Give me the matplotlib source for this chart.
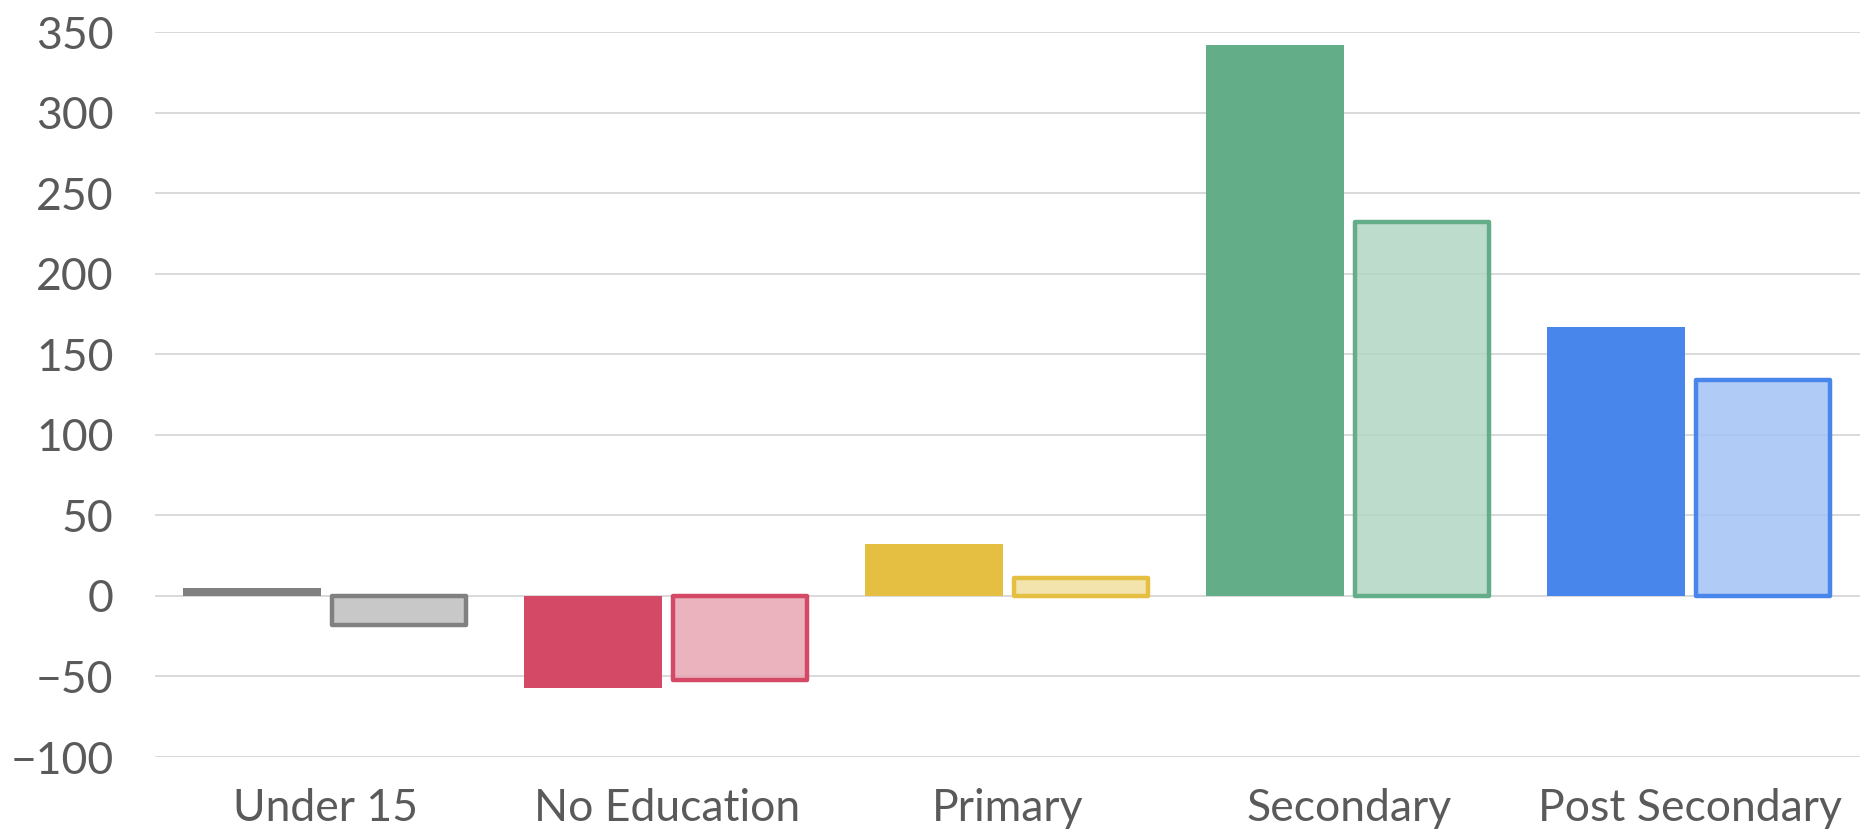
import numpy as np
import matplotlib.pyplot as plt

# categories and the two series (dark = first, light = second)
categories = ["Under 15", "No Education", "Primary", "Secondary", "Post Secondary"]
series_a = [5, -57, 32, 342, 167]
series_b = [-18, -52, 11, 232, 134]

dark_colors = ["#808080", "#d44a66", "#e5bf42", "#63ae88", "#4886eb"]
light_colors = ["#bfbfbf", "#e8a6b2", "#f1df9f", "#b3d6c4", "#a4c2f6"]

y_ticks = [-100, -50, 0, 50, 100, 150, 200, 250, 300, 350]

fig = plt.figure(figsize=(18.64, 8.32), dpi=100)
ax = fig.add_axes([0.0832, 0.0901, 0.9148, 0.8714])

x = np.arange(len(categories))
w = 0.405

ax.bar(x - 0.215, series_a, width=w, color=dark_colors, zorder=3)
ax.bar(x + 0.215, series_b, width=w - 0.012, color=light_colors,
       edgecolor=dark_colors, linewidth=3.2, joinstyle="round", zorder=3)
# light fill is see-through in the original
for p in ax.patches[len(categories):]:
    fc = p.get_facecolor()
    p.set_facecolor((fc[0], fc[1], fc[2], 0.85))

ax.set_xlim(-0.5, len(categories) - 0.5)
ax.set_ylim(-100, 350)
ax.set_yticks(y_ticks)
ax.set_xticks(x)
ax.set_xticklabels(categories)

ax.grid(axis="y", color="#d9d9d9", linewidth=1.4, zorder=0)
ax.set_axisbelow(True)
for s in ax.spines.values():
    s.set_visible(False)
ax.tick_params(length=0, labelsize=32, labelcolor="#5a5a5a")
ax.tick_params(axis="y", pad=30)
ax.tick_params(axis="x", pad=22)
for lab in ax.get_xticklabels() + ax.get_yticklabels():
    lab.set_family("Lato")

fig.savefig("out.png", dpi=100)
